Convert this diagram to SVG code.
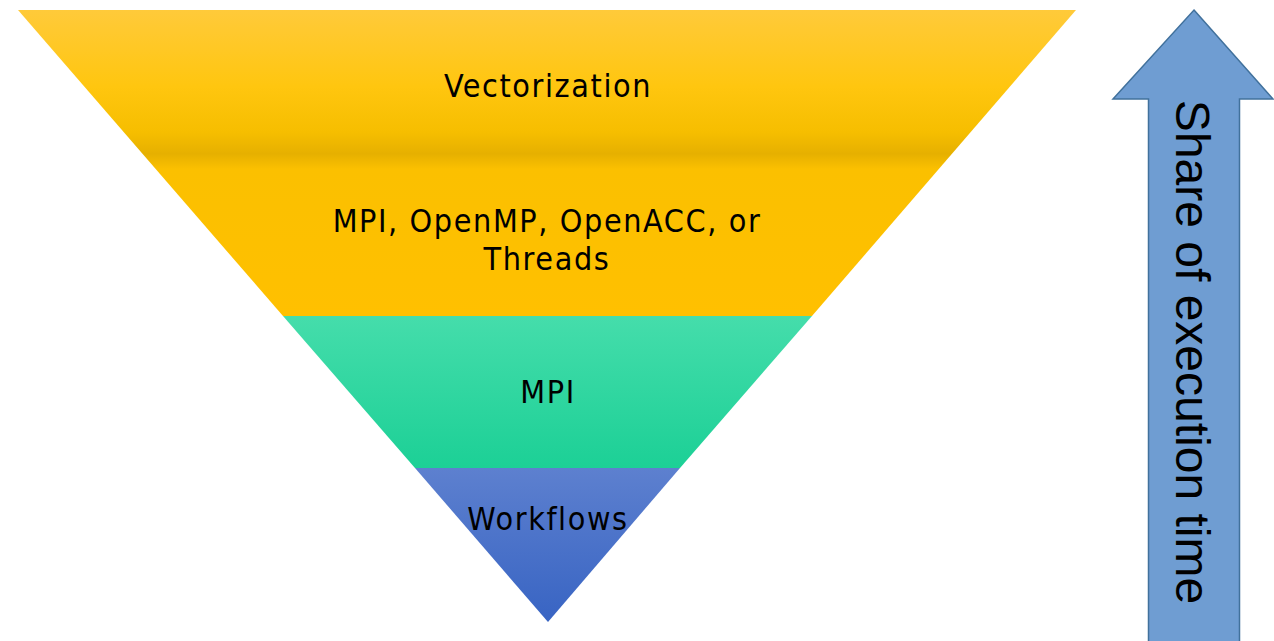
<svg xmlns="http://www.w3.org/2000/svg" width="1274" height="641" viewBox="0 0 1274 641">
  <style>
    .lbl { font-family: "DejaVu Sans Condensed", "DejaVu Sans", sans-serif; font-stretch: condensed; font-size: 32px; letter-spacing: 1.6px; fill: #000; text-anchor: middle; }
    .axis { font-family: "Liberation Sans", Arial, sans-serif; font-size: 48px; fill: #000; text-anchor: middle; }
  </style>
  <defs>
    <linearGradient id="gYellow" gradientUnits="userSpaceOnUse" x1="0" y1="10" x2="0" y2="316">
      <stop offset="0" stop-color="#FFCA3A"/>
      <stop offset="0.25" stop-color="#FFC60F"/>
      <stop offset="0.40" stop-color="#F6BE00"/>
      <stop offset="0.47" stop-color="#E6B000"/>
      <stop offset="0.52" stop-color="#FBC000"/>
      <stop offset="1" stop-color="#FFC000"/>
    </linearGradient>
    <linearGradient id="gGreen" gradientUnits="userSpaceOnUse" x1="0" y1="316" x2="0" y2="468">
      <stop offset="0" stop-color="#45DDAB"/>
      <stop offset="1" stop-color="#1CD096"/>
    </linearGradient>
    <linearGradient id="gBlue" gradientUnits="userSpaceOnUse" x1="0" y1="468" x2="0" y2="622">
      <stop offset="0" stop-color="#5D80CF"/>
      <stop offset="1" stop-color="#3864C3"/>
    </linearGradient>
  </defs>

  <!-- inverted pyramid: three stacked bands -->
  <g id="band-top">
    <polygon points="18,10 1076,10 812,316 283,316" fill="url(#gYellow)"/>
    <text class="lbl" x="548" y="97">Vectorization</text>
    <text class="lbl" x="547" y="232">MPI, OpenMP, OpenACC, or</text>
    <text class="lbl" x="547" y="270">Threads</text>
  </g>
  <g id="band-middle">
    <polygon points="283,316 812,316 680,468 415,468" fill="url(#gGreen)"/>
    <text class="lbl" x="548" y="403">MPI</text>
  </g>
  <g id="band-bottom">
    <polygon points="415,468 680,468 548,622" fill="url(#gBlue)"/>
    <text class="lbl" x="548" y="530">Workflows</text>
  </g>

  <!-- upward arrow with vertical caption -->
  <g id="arrow">
    <polygon points="1194,10 1273,99 1239.5,99 1239.5,645 1148.5,645 1148.5,99 1113,99 1194,10" fill="#6F9DD2" stroke="#41719C" stroke-width="1.5"/>
    <text class="axis" transform="translate(1176,352) rotate(90)">Share of execution time</text>
  </g>
</svg>
